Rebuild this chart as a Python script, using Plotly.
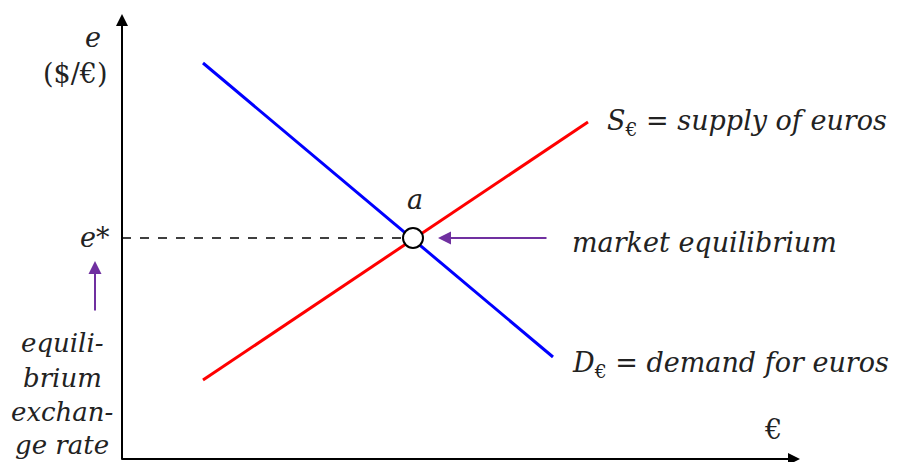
import plotly.graph_objects as go

# schematic coordinates (origin at the axes corner)
demand_x = [81, 431]
demand_y = [396, 102]
supply_x = [81, 466]
supply_y = [79, 337]
eq_x = [291]
eq_y = [221]

FONT = "DejaVu Serif"
PURPLE = "#7030A0"

fig = go.Figure()

# dashed line from the y-axis to the equilibrium
fig.add_trace(go.Scatter(x=[0, eq_x[0]], y=[eq_y[0], eq_y[0]], mode="lines",
                         line=dict(color="black", width=1.3, dash="dash"), hoverinfo="skip"))
fig.add_trace(go.Scatter(x=demand_x, y=demand_y, mode="lines",
                         line=dict(color="#0000FF", width=3), hoverinfo="skip"))
fig.add_trace(go.Scatter(x=supply_x, y=supply_y, mode="lines",
                         line=dict(color="#FF0000", width=3), hoverinfo="skip"))
fig.add_trace(go.Scatter(x=eq_x, y=eq_y, mode="markers",
                         marker=dict(size=20, color="white", line=dict(color="black", width=2)),
                         hoverinfo="skip"))

ann = []
# axes with arrowheads
ann.append(dict(x=0, y=445, ax=0, ay=-2, xref="x", yref="y", axref="x", ayref="y",
                showarrow=True, arrowhead=2, arrowsize=1.2, arrowwidth=2, arrowcolor="black", text=""))
ann.append(dict(x=678, y=0, ax=-2, ay=0, xref="x", yref="y", axref="x", ayref="y",
                showarrow=True, arrowhead=2, arrowsize=1.2, arrowwidth=2, arrowcolor="black", text=""))
# purple arrows
ann.append(dict(x=316, y=221, ax=426, ay=221, xref="x", yref="y", axref="x", ayref="y",
                showarrow=True, arrowhead=2, arrowsize=1.3, arrowwidth=2, arrowcolor=PURPLE, text=""))
ann.append(dict(x=-27, y=198, ax=-27, ay=147, xref="x", yref="y", axref="x", ayref="y",
                showarrow=True, arrowhead=2, arrowsize=1.3, arrowwidth=2, arrowcolor=PURPLE, text=""))


def label(x, y, text, xanchor="center", size=27):
    ann.append(dict(x=x, y=y, xref="x", yref="y", text=text, showarrow=False,
                    xanchor=xanchor, yanchor="middle",
                    font=dict(family=FONT, size=size, color="#222222")))


label(-29, 422, "<i>e</i>")
label(-47, 386, "($/€)")
label(-27, 222, "<i>e</i>*")
label(-60, 116, "<i>equili-</i>", size=26)
label(-60, 81, "<i>brium</i>", size=26)
label(-60, 47, "<i>exchan-</i>", size=26)
label(-60, 14, "<i>ge rate</i>", size=26)
label(293, 260, "<i>a</i>")
label(483, 337, "<i>S</i><sub>€</sub> = <i>supply of euros</i>", "left")
label(448, 217, "<i>market equilibrium</i>", "left")
label(448, 95, "<i>D</i><sub>€</sub> = <i>demand for euros</i>", "left")
label(651, 30, "€")

# the page body adds an 8px margin, so the figure is 8px smaller and the ranges shifted
fig.update_layout(
    width=892, height=454,
    margin=dict(l=0, r=0, t=0, b=0),
    plot_bgcolor="white", paper_bgcolor="white",
    showlegend=False,
    xaxis=dict(range=[-114, 778], visible=False, fixedrange=True),
    yaxis=dict(range=[-3, 451], visible=False, fixedrange=True),
    annotations=ann,
)

fig.write_html("out.html")
